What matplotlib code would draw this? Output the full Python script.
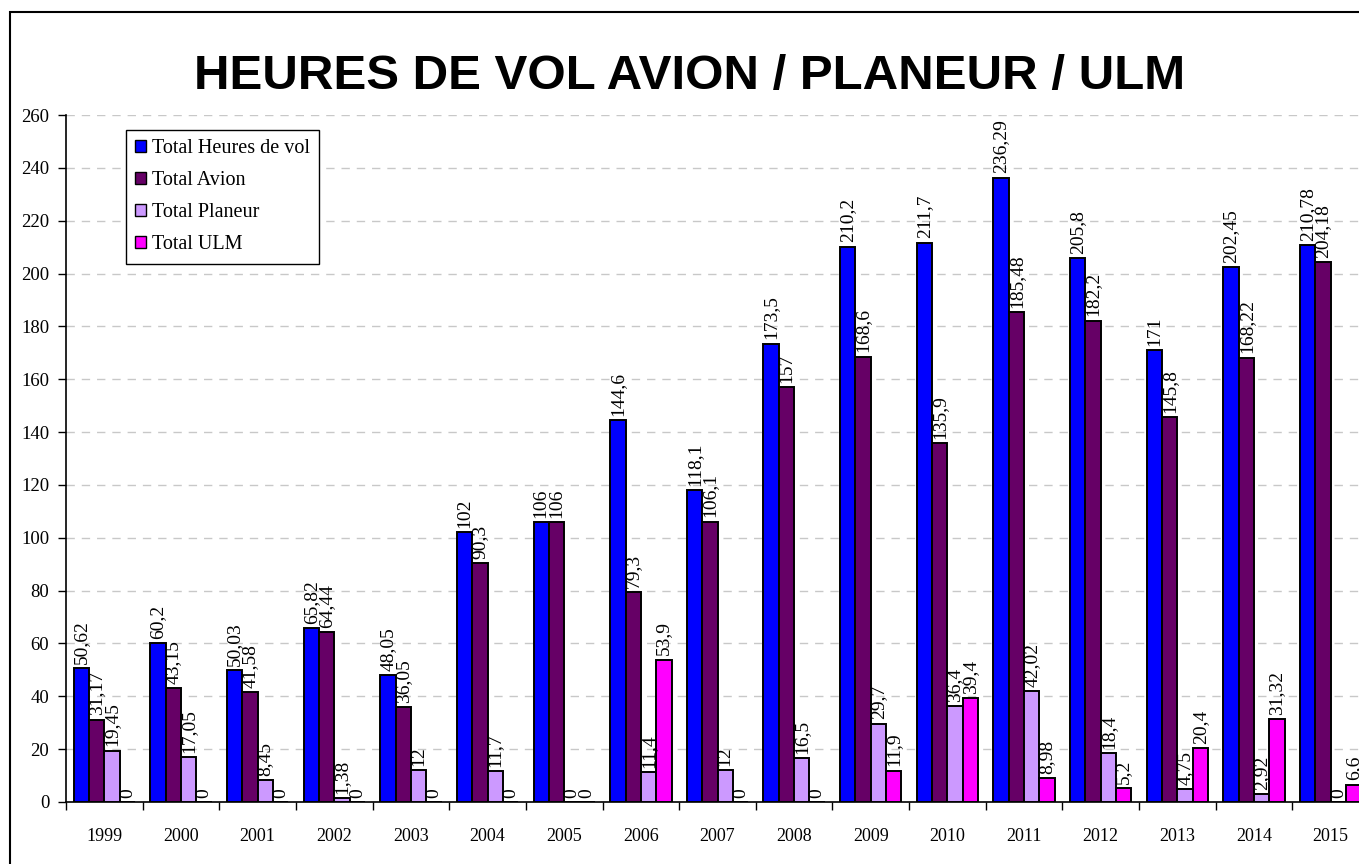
import numpy as np
import matplotlib.pyplot as plt
from matplotlib.patches import Rectangle

years = ['1999', '2000', '2001', '2002', '2003', '2004', '2005', '2006', '2007',
         '2008', '2009', '2010', '2011', '2012', '2013', '2014', '2015']
total = [50.62, 60.2, 50.03, 65.82, 48.05, 102, 106, 144.6, 118.1,
         173.5, 210.2, 211.7, 236.29, 205.8, 171, 202.45, 210.78]
avion = [31.17, 43.15, 41.58, 64.44, 36.05, 90.3, 106, 79.3, 106.1,
         157, 168.6, 135.9, 185.48, 182.2, 145.8, 168.22, 204.18]
planeur = [19.45, 17.05, 8.45, 1.38, 12, 11.7, 0, 11.4, 12,
           16.5, 29.7, 36.4, 42.02, 18.4, 4.75, 2.92, 0]
ulm = [0, 0, 0, 0, 0, 0, 0, 53.9, 0,
       0, 11.9, 39.4, 8.98, 5.2, 20.4, 31.32, 6.6]

series = [('Total Heures de vol', total, '#0000FF'),
          ('Total Avion', avion, '#660066'),
          ('Total Planeur', planeur, '#CC99FF'),
          ('Total ULM', ulm, '#FF00FF')]

serif = ['Liberation Serif', 'DejaVu Serif']

fig = plt.figure(figsize=(13.59, 8.64), dpi=100)

# cadre autour du graphique
fig.patches.append(Rectangle((10 / 1359, -0.05), 1.1, 1.05 - 12 / 864,
                             transform=fig.transFigure, fill=False,
                             edgecolor='black', linewidth=1.5, zorder=0))

ax = fig.add_axes([66 / 1359, 62 / 864, 1303 / 1359, 687 / 864])

x = np.arange(len(years))
w = 0.2
for i, (name, vals, col) in enumerate(series):
    pos = x + (i - 1.5) * w
    bars = ax.bar(pos, vals, w, color=col, edgecolor='black', linewidth=1.4,
                  label=name, zorder=3)
    for b, v in zip(bars, vals):
        txt = ('%g' % v).replace('.', ',')
        ax.annotate(txt, (b.get_x() + b.get_width() / 2, v),
                    xytext=(0, 3), textcoords='offset points',
                    rotation=90, ha='center', va='bottom',
                    fontsize=14, family=serif, zorder=4)

ax.set_xlim(-0.5, len(years) - 0.5)
ax.set_ylim(0, 260)
ax.set_yticks(np.arange(0, 261, 20))
ax.yaxis.grid(True, color='#C8C8C8', linestyle=(0, (6, 5)), linewidth=1.0, zorder=0)

# ticks entre les groupes, etiquettes au centre
ax.set_xticks(np.arange(-0.5, len(years), 1.0))
ax.set_xticklabels([])
ax.set_xticks(x, minor=True)
ax.set_xticklabels(years, minor=True, family=serif, fontsize=13)
ax.tick_params(axis='x', which='minor', length=0, pad=19)
ax.tick_params(axis='x', which='major', length=6, width=1, direction='out')
ax.tick_params(axis='y', length=6, width=1, pad=6)
for t in ax.get_yticklabels():
    t.set_family(serif)
    t.set_fontsize(13.5)

ax.spines['top'].set_visible(False)
ax.spines['right'].set_visible(False)
ax.spines['left'].set_linewidth(1.2)
ax.spines['bottom'].set_linewidth(1.2)

leg = ax.legend(loc='upper left', bbox_to_anchor=(0.046, 0.978), borderaxespad=0,
                prop={'family': serif, 'size': 14.5}, fancybox=False, framealpha=1,
                edgecolor='black', handlelength=0.55, handleheight=0.55,
                handletextpad=0.3, labelspacing=0.65, borderpad=0.45)
leg.get_frame().set_linewidth(1.0)
for h in leg.legend_handles:
    h.set_linewidth(1.0)

fig.text(0.5077, 1 - 76 / 864, 'HEURES DE VOL AVION / PLANEUR / ULM',
         ha='center', va='center', fontsize=35.5, fontweight='bold',
         family=['Liberation Sans Narrow', 'Liberation Sans', 'DejaVu Sans'])

fig.savefig('out.png', dpi=100)
